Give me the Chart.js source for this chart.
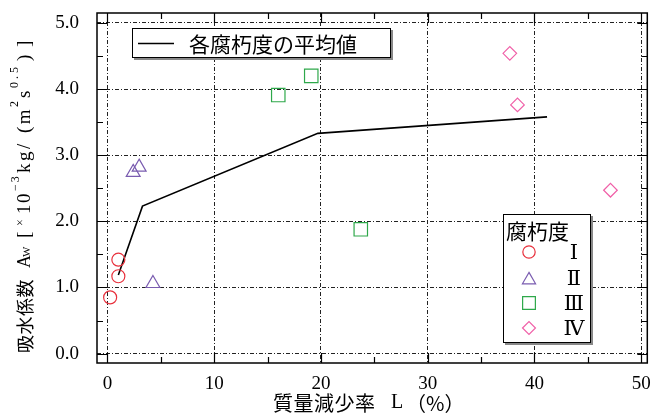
<!DOCTYPE html>
<html><head><meta charset="utf-8">
<script src="https://cdn.jsdelivr.net/npm/chart.js@4"></script>
<style>html,body{margin:0;padding:0;background:#fff}canvas{display:block}</style>
</head><body>
<canvas id="c" width="658" height="416"></canvas>
<script>
// ---- data ----
const degreeLabels = ['Ⅰ', 'Ⅱ', 'Ⅲ', 'Ⅳ'];
const deg1X = [0.25, 1.02, 1.02];
const deg1Y = [0.85, 1.17, 1.42];
const deg2X = [2.41, 2.97, 4.26];
const deg2Y = [2.74, 2.82, 1.06];
const deg3X = [16.0, 19.09, 23.73];
const deg3Y = [3.91, 4.20, 1.88];
const deg4X = [37.69, 38.41, 47.12];
const deg4Y = [4.54, 3.76, 2.47];
const meanX = [1.02, 3.28, 19.71, 41.18];
const meanY = [1.19, 2.23, 3.33, 3.58];
const xTicks = [0, 10, 20, 30, 40, 50];
const yTicks = [0, 1, 2, 3, 4, 5];
const xMinorTicks = [5, 15, 25, 35, 45];
const yMinorTicks = [0.5, 1.5, 2.5, 3.5, 4.5];
const meanLabel = '各腐朽度の平均値';
const legendTitle = '腐朽度';
const xTitleParts = ['質量減少率', 'L', '（%）'];
const yTitleParts = ['吸水係数', 'A', 'W', '[', '×', '10', '−3', 'kg/', '(m', '2', 's', '0.5', ')', ']'];

const SERIF = "'Liberation Serif','DejaVu Serif','Noto Sans CJK JP'";
const CJK = "'Noto Sans CJK JP'";
const colors = ['#e8303c', '#7a5cb0', '#2ea84a', '#f060a8'];
const styles = ['circle', 'triangle', 'rect', 'rectRot'];
const radii = [6.5, 8, 9.5, 6.8];

function pts(xs, ys) { return xs.map((x, i) => ({x: x, y: ys[i]})); }
function markerDs(i, xs, ys) {
  return {
    label: degreeLabels[i], data: pts(xs, ys), pointStyle: styles[i],
    borderColor: colors[i], backgroundColor: 'rgba(0,0,0,0)',
    pointBorderColor: colors[i], pointBackgroundColor: 'rgba(0,0,0,0)',
    pointRadius: radii[i], pointBorderWidth: 1.2, showLine: false
  };
}

const frameTicks = {
  id: 'frameTicks',
  afterDatasetsDraw(chart) {
    const {ctx, chartArea: a, scales: {x, y}} = chart;
    ctx.save();
    ctx.strokeStyle = '#000';
    ctx.lineWidth = 1.2;
    ctx.beginPath();
    const tick = (v, len, horiz) => {
      if (horiz) {
        const px = Math.round(x.getPixelForValue(v)) + 0.5;
        ctx.moveTo(px, a.bottom); ctx.lineTo(px, a.bottom - len);
        ctx.moveTo(px, a.top); ctx.lineTo(px, a.top + len);
      } else {
        const py = Math.round(y.getPixelForValue(v)) + 0.5;
        ctx.moveTo(a.left, py); ctx.lineTo(a.left + len, py);
        ctx.moveTo(a.right, py); ctx.lineTo(a.right - len, py);
      }
    };
    xTicks.forEach(v => tick(v, 10, true));
    xMinorTicks.forEach(v => tick(v, 6, true));
    yTicks.forEach(v => tick(v, 10, false));
    yMinorTicks.forEach(v => tick(v, 6, false));
    ctx.stroke();
    ctx.lineWidth = 1.5;
    ctx.strokeRect(a.left, a.top, a.right - a.left, a.bottom - a.top);
    ctx.restore();
  }
};

const legends = {
  id: 'legends',
  afterDraw(chart) {
    const ctx = chart.ctx;
    ctx.save();
    // legend 1
    ctx.fillStyle = '#888';
    ctx.fillRect(134, 30, 259, 30);
    ctx.fillStyle = '#fff';
    ctx.fillRect(132, 28, 259, 30);
    ctx.strokeStyle = '#000'; ctx.lineWidth = 1;
    ctx.strokeRect(132.5, 28.5, 258, 29);
    ctx.beginPath(); ctx.lineWidth = 1.5;
    ctx.moveTo(138, 43.5); ctx.lineTo(174, 43.5); ctx.stroke();
    ctx.fillStyle = '#000';
    ctx.font = '21px ' + CJK;
    ctx.textBaseline = 'middle'; ctx.textAlign = 'left';
    ctx.fillText(meanLabel, 189, 44);
    // legend 2
    ctx.fillStyle = '#888';
    ctx.fillRect(505, 216, 88, 129);
    ctx.fillStyle = '#fff';
    ctx.fillRect(503, 214, 88, 129);
    ctx.lineWidth = 1; ctx.strokeStyle = '#000';
    ctx.strokeRect(503.5, 214.5, 87, 128);
    ctx.fillStyle = '#000';
    ctx.font = '21px ' + CJK;
    ctx.fillText(legendTitle, 506, 231);
    const rows = [252, 278, 303, 328];
    chart.data.datasets.slice(0, 4).forEach((ds, i) => {
      ctx.strokeStyle = colors[i]; ctx.lineWidth = 1.2;
      ctx.fillStyle = 'rgba(0,0,0,0)';
      Chart.helpers.drawPoint(ctx, {pointStyle: styles[i], radius: radii[i] * 0.95, borderWidth: 1.2, rotation: 0}, 529, rows[i] + (i === 1 ? 2 : 0));
      ctx.fillStyle = '#000';
      ctx.font = '21px ' + SERIF;
      ctx.textAlign = 'center';
      ctx.fillText(ds.label, 574, rows[i] + 1);
      ctx.textAlign = 'left';
    });
    ctx.restore();
  }
};

const axisTitles = {
  id: 'axisTitles',
  afterDraw(chart) {
    const ctx = chart.ctx;
    ctx.save();
    ctx.fillStyle = '#000';
    ctx.textBaseline = 'middle';
    ctx.textAlign = 'left';
    // x title
    const xf = ['20px ' + CJK, '20px ' + SERIF, '20px ' + CJK];
    const xs = [273, 391, 406];
    xTitleParts.forEach((t, i) => {
      ctx.font = xf[i];
      if (i === 0) { ctx.letterSpacing = '0.5px'; } else { ctx.letterSpacing = '0px'; }
      ctx.fillText(t, xs[i], 403);
    });
    ctx.letterSpacing = '0px';
    // y title (rotated); p = distance from bottom start, dy = offset (negative = superscript)
    const yf = [
      '18px ' + CJK, '18px ' + SERIF, '11px ' + SERIF, '19px ' + SERIF, '12px ' + SERIF,
      '19px ' + SERIF, '12px ' + SERIF, '19px ' + SERIF, '19px ' + SERIF, '12px ' + SERIF,
      '19px ' + SERIF, '12px ' + SERIF, '19px ' + SERIF, '19px ' + SERIF
    ];
    const yp = [0, 85, 96, 115, 127, 139, 162, 180, 220, 246, 255, 265, 292, 306];
    const ydy = [0, 0, 2, 0, -4, 0, -9, 0, 0, -10, 0, -10, 0, 0];
    const ysp = ['0.5px', '0px', '0px', '0px', '0px', '1.5px', '2px', '2.5px', '2.5px', '0px', '0px', '3px', '0px', '0px'];
    ctx.translate(25, 353);
    ctx.rotate(-Math.PI / 2);
    yTitleParts.forEach((t, i) => {
      ctx.font = yf[i];
      ctx.letterSpacing = ysp[i];
      ctx.fillText(t, yp[i], ydy[i]);
    });
    ctx.restore();
  }
};

const noPad = s => { s.paddingTop = 0; s.paddingBottom = 0; s.paddingLeft = 0; s.paddingRight = 0; };

new Chart(document.getElementById('c'), {
  type: 'scatter',
  data: {
    datasets: [
      markerDs(0, deg1X, deg1Y),
      markerDs(1, deg2X, deg2Y),
      markerDs(2, deg3X, deg3Y),
      markerDs(3, deg4X, deg4Y),
      {label: meanLabel, data: pts(meanX, meanY), showLine: true, borderColor: '#000',
       backgroundColor: '#000', borderWidth: 1.6, pointRadius: 0, tension: 0}
    ]
  },
  options: {
    responsive: false, animation: false,
    layout: {padding: {left: 0, right: 5, top: 13, bottom: 0}},
    plugins: {legend: {display: false}, tooltip: {enabled: false}},
    scales: {
      x: {
        type: 'linear', min: -0.98, max: 50.57,
        afterBuildTicks: s => { s.ticks = xTicks.map(v => ({value: v})); },
        afterFit: s => { s.height = 53; noPad(s); },
        grid: {color: '#222', lineWidth: 1, drawTicks: false},
        border: {display: false, dash: [4, 2, 1, 2]},
        ticks: {color: '#000', font: {family: SERIF, size: 19}, padding: 10, maxRotation: 0,
                callback: v => String(v)},
        title: {display: false}
      },
      y: {
        type: 'linear', min: -0.142, max: 5.15,
        afterBuildTicks: s => { s.ticks = yTicks.map(v => ({value: v})); },
        afterFit: s => { s.width = 97; noPad(s); },
        grid: {color: '#222', lineWidth: 1, drawTicks: false},
        border: {display: false, dash: [4, 2, 1, 2]},
        ticks: {color: '#000', font: {family: SERIF, size: 19}, padding: 18,
                callback: v => Number(v).toFixed(1)}
      }
    }
  },
  plugins: [frameTicks, legends, axisTitles]
});
</script>
</body></html>
